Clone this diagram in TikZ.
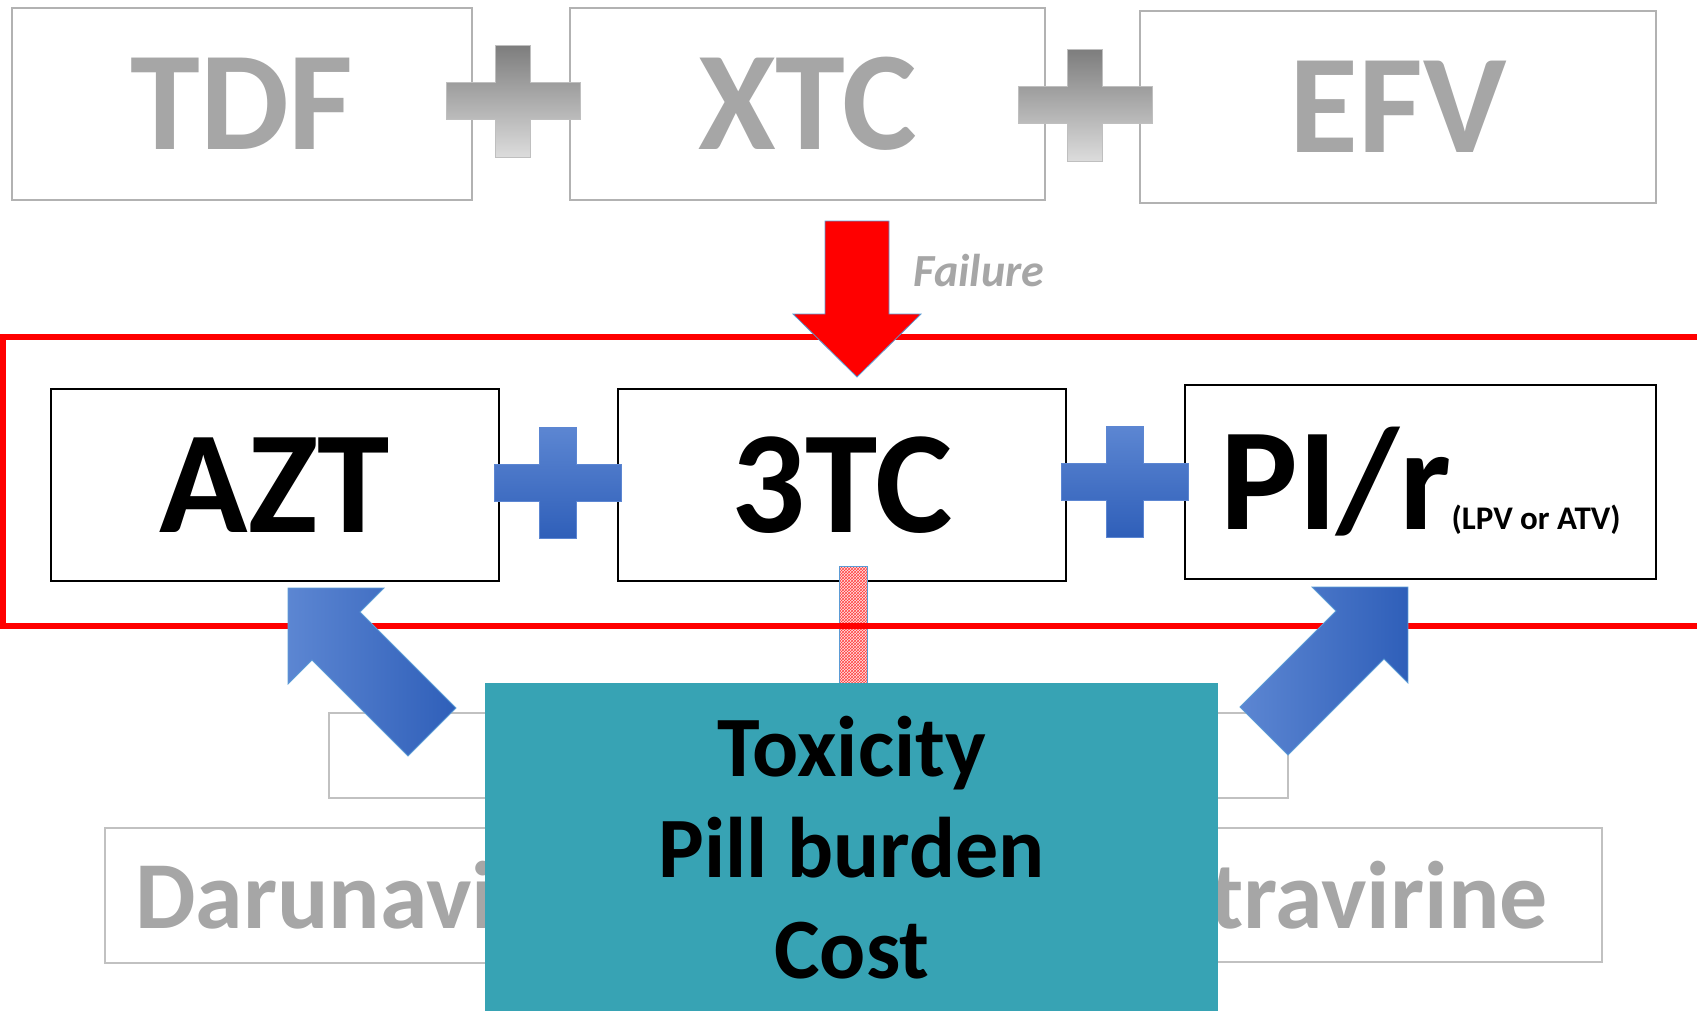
\documentclass[tikz,border=0pt]{standalone}
\usepackage{fontspec}
\setmainfont{Carlito}
\usepackage{xcolor}
\usepackage{tikz}
\usetikzlibrary{patterns}

\definecolor{fadegray}{RGB}{166,166,166}
\definecolor{boxgray}{RGB}{178,178,178}
\definecolor{plusgrayA}{RGB}{125,125,125}
\definecolor{plusgrayB}{RGB}{220,220,220}
\definecolor{tealbox}{RGB}{55,163,180}
\definecolor{blueA}{RGB}{92,134,210}
\definecolor{blueB}{RGB}{47,95,185}
\definecolor{edgeblue}{RGB}{91,155,213}

\begin{document}
\begin{tikzpicture}[x=1pt, y=-1pt,
  oldbox/.style={draw=boxgray, line width=2pt, inner sep=0pt, minimum height=192pt,
    text=fadegray, font=\fontsize{141}{141}\selectfont\bfseries},
  newbox/.style={draw=black, line width=1.8pt, inner sep=0pt, minimum height=192pt,
    font=\fontsize{146}{146}\selectfont\bfseries},
  altbox/.style={draw=boxgray!80, line width=2pt, inner sep=0pt},
  alttext/.style={text=fadegray, inner sep=0pt, font=\fontsize{96}{96}\selectfont\bfseries},
  grayplus/.style={top color=plusgrayA, bottom color=plusgrayB, draw=gray!50, line width=0.5pt},
  blueplus/.style={top color=blueA, bottom color=blueB, draw=blueA, line width=0.5pt},
  bluearrow/.style={left color=blueA, right color=blueB, draw=edgeblue, line width=0.8pt},
  failarrow/.style={fill=red, draw=edgeblue, line width=0.8pt},
  redframe/.style={draw=red, line width=5.5pt}]
\useasboundingbox (0,0) rectangle (1697,1010);

% ---- TOP: first regimen (faded) ----
\node[oldbox, minimum width=460pt] (tdf) at (242,104) {TDF};
\node[oldbox, minimum width=475pt] (xtc) at (807.5,104) {XTC};
\node[oldbox, minimum width=516pt] (efv) at (1398,107) {EFV};
\foreach \cx/\cy in {513/101, 1085/105}
  \path[grayplus] (\cx-17.5,\cy-56) -- (\cx+17.5,\cy-56) -- (\cx+17.5,\cy-18.5)
    -- (\cx+67,\cy-18.5) -- (\cx+67,\cy+18.5) -- (\cx+17.5,\cy+18.5) -- (\cx+17.5,\cy+56)
    -- (\cx-17.5,\cy+56) -- (\cx-17.5,\cy+18.5) -- (\cx-67,\cy+18.5) -- (\cx-67,\cy-18.5)
    -- (\cx-17.5,\cy-18.5) -- cycle;

% ---- second regimen frame ----
\draw[redframe] (3,337) rectangle (1720,626);

% ---- failure arrow ----
\coordinate (failtip) at (857,377);
\path[failarrow] (failtip) -- ++(64,-63) -- ++(-32,0) -- ++(0,-93) -- ++(-64,0)
  -- ++(0,93) -- ++(-32,0) -- cycle;
\node[text=fadegray, font=\fontsize{46}{46}\selectfont\bfseries\itshape] (fail) at (979,271) {Failure};

% ---- MIDDLE: second regimen ----
\node[newbox, minimum width=448pt] (azt) at (275,485) {AZT};
\node[newbox, minimum width=448pt] (ttc) at (842,485) {3TC};
\node[newbox, minimum width=471pt, minimum height=194pt] (pir) at (1420.5,482)
  {PI/r{\fontsize{33}{33}\selectfont(LPV or ATV)}};
\foreach \cx/\cy in {557.5/483, 1124.5/482}
  \path[blueplus] (\cx-18.5,\cy-55.5) -- (\cx+18.5,\cy-55.5) -- (\cx+18.5,\cy-18.5)
    -- (\cx+63.5,\cy-18.5) -- (\cx+63.5,\cy+18.5) -- (\cx+18.5,\cy+18.5) -- (\cx+18.5,\cy+55.5)
    -- (\cx-18.5,\cy+55.5) -- (\cx-18.5,\cy+18.5) -- (\cx-63.5,\cy+18.5) -- (\cx-63.5,\cy-18.5)
    -- (\cx-18.5,\cy-18.5) -- cycle;

% hatched link under 3TC
\draw[edgeblue, line width=0.8pt, preaction={fill=red!10},
  pattern=crosshatch, pattern color=red!75] (839,566) rectangle (867,690);
\draw[redframe] (800,626) -- (900,626);

% ---- BOTTOM: alternatives (faded) ----
\node[altbox, minimum width=959pt, minimum height=85pt] (alt) at (808.5,755.5) {};
\node[altbox, minimum width=495pt, minimum height=135pt] (drvbox) at (352.5,895.5) {};
\node[altbox, minimum width=502pt, minimum height=134pt] (etrbox) at (1351,895) {};
\node[alttext, anchor=base west] (drv) at (135,928) {Darunavir};
\node[alttext, anchor=base east] (etr) at (1548,928) {Etravirine};

% switch arrows
\coordinate (lefttip) at (288,588);
\coordinate (righttip) at (1408,587);
\path[bluearrow] (lefttip) -- ++(96,0) -- ++(-24,24) -- ++(96,96) -- ++(-48,48)
  -- ++(-96,-96) -- ++(-24,24) -- cycle;
\path[bluearrow] (righttip) -- ++(-96,0) -- ++(24,24) -- ++(-96,96) -- ++(48,48)
  -- ++(96,-96) -- ++(24,24) -- cycle;

% ---- reasons box ----
\node[fill=tealbox, inner sep=0pt, minimum width=733pt, minimum height=329pt, anchor=north west,
  align=center, font=\fontsize{86}{101}\selectfont\bfseries] (why) at (485,683)
  {Toxicity\\Pill burden\\Cost};
\end{tikzpicture}
\end{document}
